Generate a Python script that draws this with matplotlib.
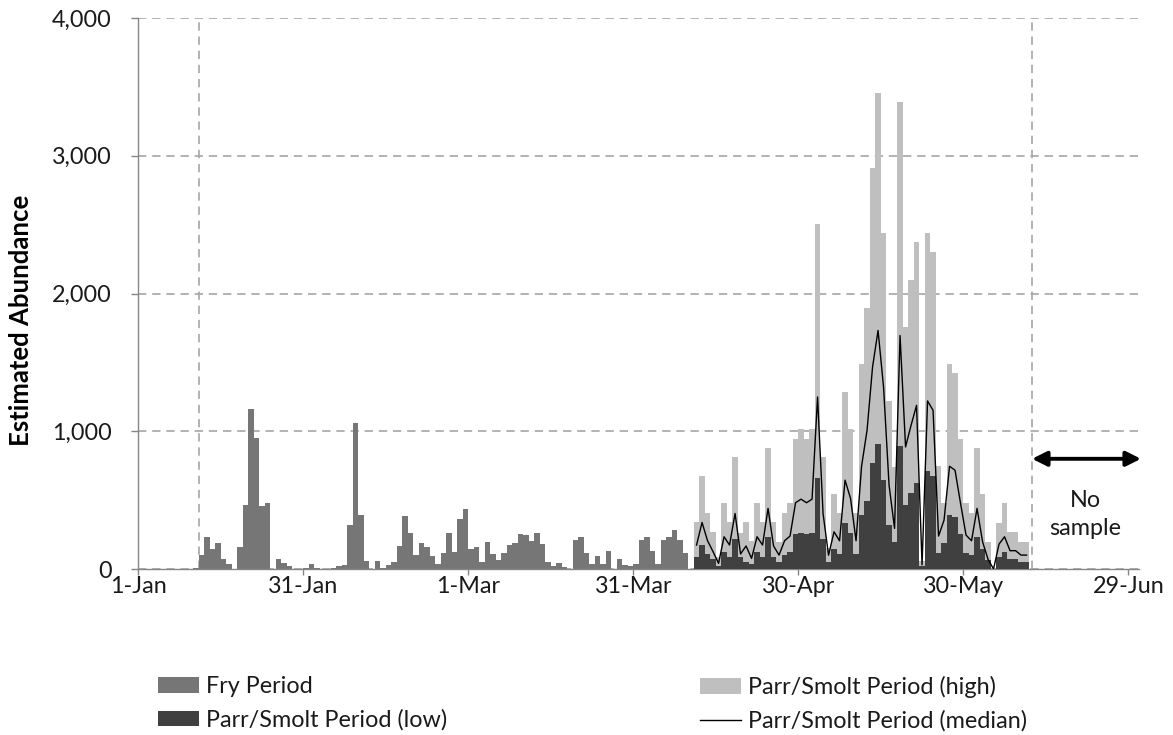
import numpy as np
import matplotlib
matplotlib.use("Agg")
import matplotlib.pyplot as plt
from matplotlib.patches import Patch
from matplotlib.lines import Line2D

plt.rcParams['font.family'] = ['Lato', 'DejaVu Sans']

# Day-of-year index (0 = 1-Jan) for each daily estimate
fry_start = 10
fry_values = [10, 102, 230, 143, 192, 75, 36, 0, 158, 464,
              1158, 951, 454, 480, 0, 75, 41, 22, 0, 0,
              5, 36, 10, 0, 0, 7, 24, 32, 322, 1061,
              395, 59, 0, 59, 7, 32, 49, 168, 385, 259,
              105, 188, 159, 92, 35, 117, 262, 125, 361, 434,
              143, 162, 53, 199, 109, 66, 119, 175, 192, 253,
              245, 206, 263, 182, 49, 23, 40, 17, 0, 211,
              231, 119, 36, 98, 36, 133, 0, 75, 28, 22,
              36, 208, 231, 133, 36, 208, 230, 285, 208, 117]

parr_start = 101
parr_high = [338, 676, 408, 270, 89, 476, 338, 814, 263, 338,
             205, 476, 338, 879, 338, 198, 408, 476, 947, 1014,
             947, 1014, 2504, 814, 150, 543, 408, 1285, 1014, 408,
             1490, 1893, 2910, 3453, 2439, 1220, 741, 3391, 1756, 2099,
             2372, 55, 2439, 2299, 746, 476, 1490, 1422, 947, 476,
             408, 881, 543, 198, 0, 336, 476, 270, 270, 198, 198]
parr_low = [89, 174, 109, 72, 24, 126, 89, 215, 89, 53,
            34, 126, 89, 229, 89, 53, 101, 126, 254, 263,
            254, 263, 657, 215, 50, 142, 109, 336, 263, 109,
            391, 495, 766, 910, 645, 319, 193, 891, 464, 553,
            621, 20, 712, 674, 118, 191, 391, 374, 254, 118,
            101, 229, 142, 65, 0, 85, 126, 70, 70, 53, 53]
parr_median = [174, 338, 205, 126, 41, 234, 174, 403, 109, 167,
               77, 234, 174, 440, 167, 101, 205, 239, 481, 507,
               481, 507, 1249, 403, 100, 270, 205, 645, 512, 205,
               745, 1007, 1466, 1732, 1321, 609, 295, 1695, 886, 1043,
               1188, 30, 1220, 1152, 239, 355, 746, 717, 476, 246,
               205, 440, 198, 70, 0, 181, 234, 133, 133, 101, 101]

tick_days = [0, 30, 60, 90, 120, 150, 180]
tick_labels = ['1-Jan', '31-Jan', '1-Mar', '31-Mar', '30-Apr', '30-May', '29-Jun']
y_ticks = [0, 1000, 2000, 3000, 4000]
period_bounds = [11, 162.5]

fry_days = np.arange(fry_start, fry_start + len(fry_values))
parr_days = np.arange(parr_start, parr_start + len(parr_high))

C_FRY = '#767676'
C_HIGH = '#BFBFBF'
C_LOW = '#404040'
C_GRID = '#A6A6A6'
C_AXIS = '#868686'
C_TEXT = '#1a1a1a'
FS = 16.8

W, H = 1173, 735
fig = plt.figure(figsize=(W / 100, H / 100), dpi=100)
ax = fig.add_axes([138.3 / W, 1 - 569 / H, (1139.3 - 138.3) / W, (569 - 18) / H])

ax.set_xlim(0, 182)
ax.set_ylim(0, 4000)

ax.yaxis.grid(True, linestyle=(0, (5, 3.5)), color=C_GRID, linewidth=1.2, zorder=0)
ax.set_axisbelow(True)
for xb in period_bounds:
    ax.axvline(xb, linestyle=(0, (5, 3.5)), color=C_GRID, linewidth=1.2, zorder=0.5)

ax.bar(fry_days, fry_values, width=1, align='edge', color=C_FRY, linewidth=0, zorder=2)
ax.bar(parr_days, parr_high, width=1, align='edge', color=C_HIGH, linewidth=0, zorder=2)
ax.bar(parr_days, parr_low, width=1, align='edge', color=C_LOW, linewidth=0, zorder=3)
ax.plot(parr_days + 0.5, parr_median, color='black', linewidth=1.0, zorder=4)

ax.set_xticks(tick_days)
ax.set_xticklabels(tick_labels)
ax.set_yticks(y_ticks)
ax.set_yticklabels([f'{v:,}' for v in y_ticks])
ax.tick_params(axis='x', direction='out', length=4, width=1, color=C_AXIS,
               labelsize=FS, pad=1, labelcolor=C_TEXT)
ax.tick_params(axis='y', direction='out', length=5, width=1, color=C_AXIS,
               labelsize=FS, pad=14, labelcolor=C_TEXT)

for side in ('top', 'right'):
    ax.spines[side].set_visible(False)
for side in ('left', 'bottom'):
    ax.spines[side].set_color(C_AXIS)
    ax.spines[side].set_linewidth(1.0)

ax.set_ylabel('Estimated Abundance', fontsize=18.5, fontweight='bold', color='black')
ax.yaxis.set_label_coords((33 - 138.3) / 1001, (569 - 320) / 551)

# "No sample" window after the last sampling day
ax.annotate('', xy=(182.3, 800), xytext=(period_bounds[1], 800),
            arrowprops=dict(arrowstyle='<|-|>', color='black', lw=2.8,
                            mutation_scale=22, shrinkA=0, shrinkB=0),
            annotation_clip=False)
ax.text(172.2, 395, 'No\nsample', ha='center', va='center', fontsize=FS,
        linespacing=1.45, color=C_TEXT)

h_fry = Patch(facecolor=C_FRY, edgecolor='none')
h_low = Patch(facecolor=C_LOW, edgecolor='none')
h_high = Patch(facecolor=C_HIGH, edgecolor='none')
h_med = Line2D([], [], color='black', linewidth=1.0)

leg_kw = dict(frameon=False, fontsize=FS, handlelength=1.75, handleheight=0.65,
              handletextpad=0.3, labelspacing=0.52, borderpad=0, borderaxespad=0,
              loc='upper left', labelcolor=C_TEXT)
leg1 = fig.legend([h_fry, h_low], ['Fry Period', 'Parr/Smolt Period (low)'],
                  bbox_to_anchor=(158 / W, 1 - 676 / H), **leg_kw)
leg2 = fig.legend([h_high, h_med], ['Parr/Smolt Period (high)', 'Parr/Smolt Period (median)'],
                  bbox_to_anchor=(700 / W, 1 - 676 / H), **leg_kw)

fig.savefig('out.png', dpi=100)
